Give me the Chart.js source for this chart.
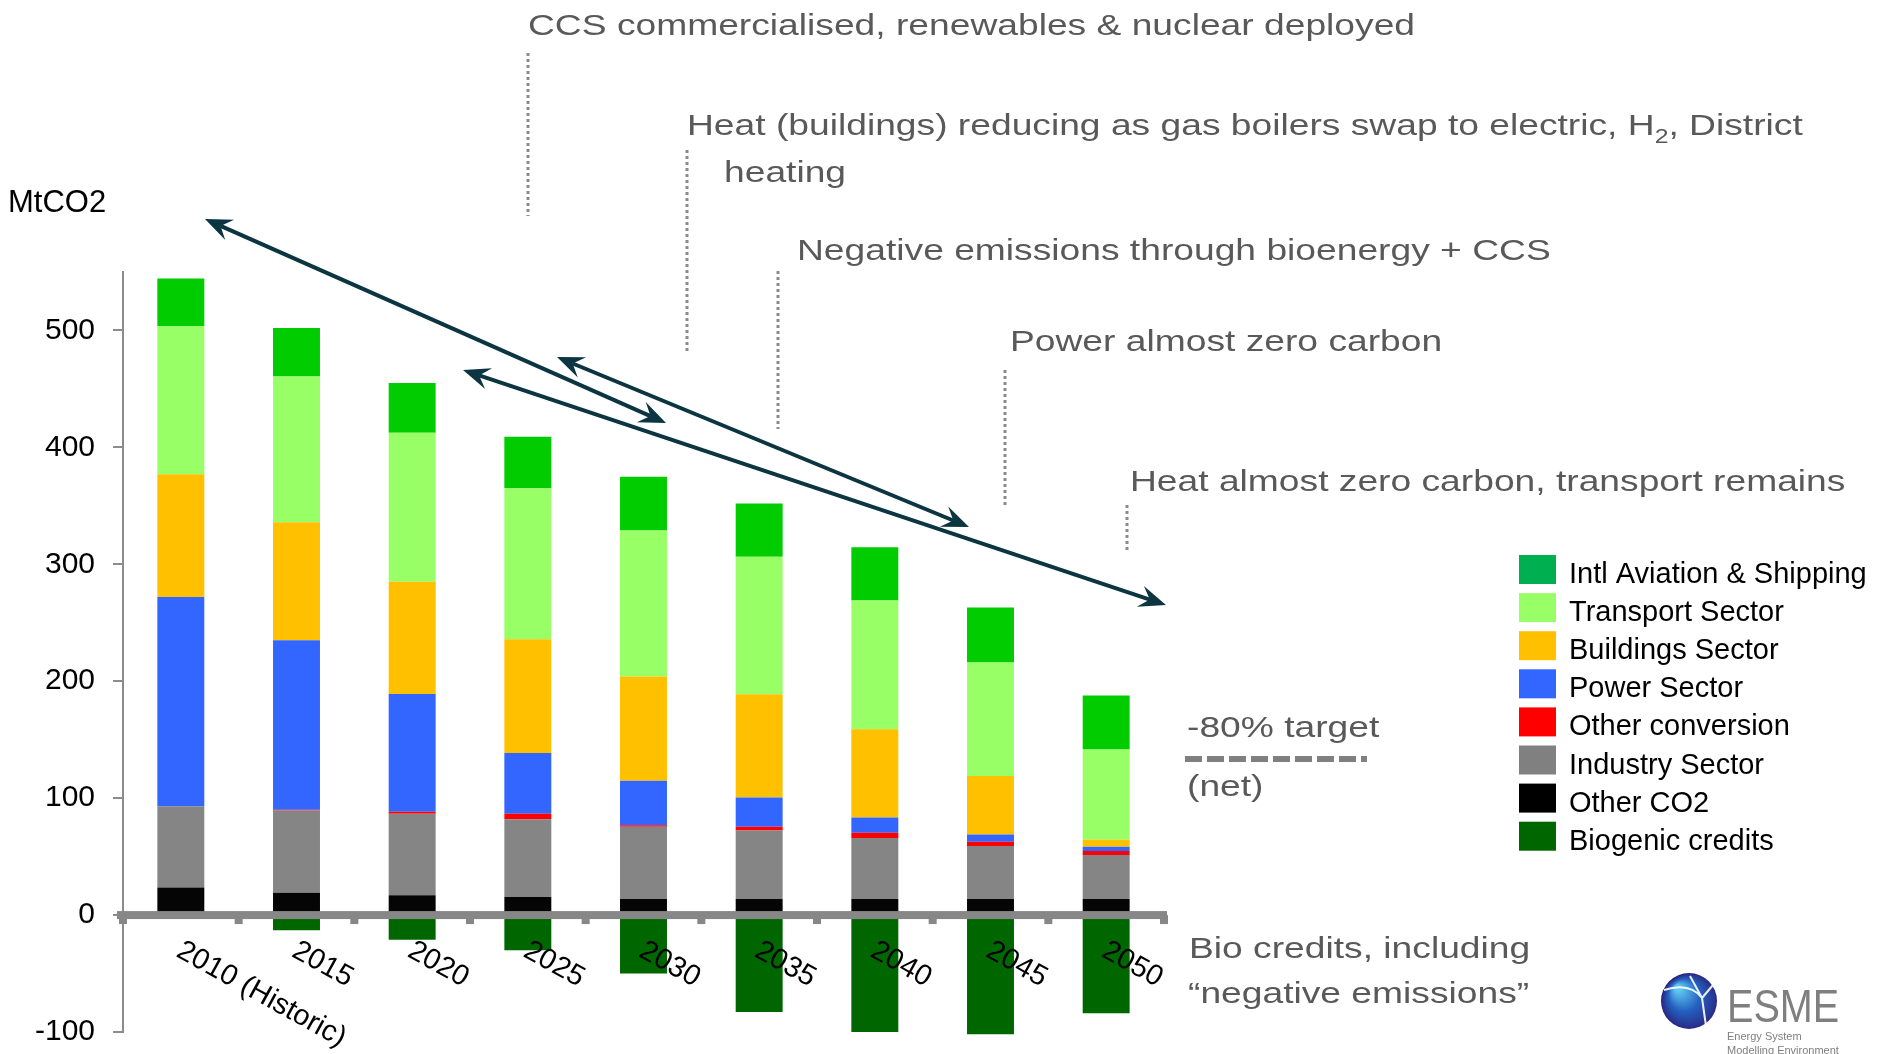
<!DOCTYPE html>
<html>
<head>
<meta charset="utf-8">
<script src="https://cdn.jsdelivr.net/npm/chart.js@4.4.0/dist/chart.umd.min.js"></script>
<style>
  html, body { margin: 0; padding: 0; background: #fff; }
  canvas { display: block; }
</style>
</head>
<body>
<canvas id="grafico" width="1886" height="1054"></canvas>
<script>
// valores (MtCO2), do fundo para o topo de cada barra
const anos = ['2010 (Historic)', '2015', '2020', '2025', '2030', '2035', '2040', '2045', '2050'];
const outrosCO2  = [23.5, 19, 17, 15.4, 13.7, 13.7, 13.7, 13.7, 13.7];
const industria  = [69.5, 70.5, 69.6, 66.6, 61.8, 58.7, 52.3, 45.3, 37.6];
const outraConv  = [0, 0.5, 1.7, 4.6, 1.4, 3.1, 4.4, 3.7, 3.4];
const energia    = [179, 145, 100.7, 52, 37.9, 25.1, 13.1, 6.3, 3.7];
const edificios  = [105, 101, 96, 97.4, 89.2, 88.3, 75.5, 50, 6];
const transporte = [126.5, 124.7, 127.5, 129, 125, 117.6, 110, 97, 77.2];
const aviacao    = [41, 41.3, 42.5, 44, 45.9, 45.5, 45.5, 47, 46.2];
const biogenicos = [0, -13, -21, -30, -50, -83, -100, -102, -84];
const yTicks = [-100, 0, 100, 200, 300, 400, 500];

const FONTE = '"Liberation Sans", Arial, sans-serif';

// séries: ordem de empilhamento (baixo -> cima)
const series = [
  { label: 'Other CO2', data: outrosCO2, cor: '#050505', legenda: '#000000' },
  { label: 'Industry Sector', data: industria, cor: '#858585', legenda: '#808080' },
  { label: 'Other conversion', data: outraConv, cor: '#FF0000', legenda: '#FF0000' },
  { label: 'Power Sector', data: energia, cor: '#3366FF', legenda: '#3366FF' },
  { label: 'Buildings Sector', data: edificios, cor: '#FFC000', legenda: '#FFC000' },
  { label: 'Transport Sector', data: transporte, cor: '#99FF66', legenda: '#99FF66' },
  { label: 'Intl Aviation & Shipping', data: aviacao, cor: '#00CC00', legenda: '#00B050' },
  { label: 'Biogenic credits', data: biogenicos, cor: '#006600', legenda: '#006600' }
];
// ordem da legenda (de cima para baixo)
const ordemLegenda = ['Intl Aviation & Shipping', 'Transport Sector', 'Buildings Sector', 'Power Sector',
  'Other conversion', 'Industry Sector', 'Other CO2', 'Biogenic credits'];

// textos de anotação
const notas = [
  { t: 'CCS commercialised, renewables & nuclear deployed', x: 528, y: 35, linha: [528, 53, 216] },
  { t: 'Negative emissions through bioenergy + CCS', x: 797, y: 260, linha: [778, 271, 429] },
  { t: 'Power almost zero carbon', x: 1010, y: 351, linha: [1005, 370, 505] },
  { t: 'Heat almost zero carbon, transport remains', x: 1130, y: 491, linha: [1127, 505, 551] },
  { t: '-80% target', x: 1187, y: 737 },
  { t: '(net)', x: 1187, y: 796 },
  { t: 'Bio credits, including', x: 1189, y: 958 },
  { t: '\u201cnegative emissions\u201d', x: 1188, y: 1003 }
];
const setas = [
  [205, 219, 666, 423],
  [557, 357, 969, 527],
  [463, 370, 1166, 605]
];

function textoLargo(ctx, s, x, y) {
  ctx.save();
  ctx.translate(x, y);
  ctx.scale(1.24, 1);
  ctx.fillText(s, 0, 0);
  const w = ctx.measureText(s).width * 1.24;
  ctx.restore();
  return w;
}

function ponta(ctx, x, y, fx, fy) {
  const a = Math.atan2(y - fy, x - fx);
  ctx.save();
  ctx.translate(x, y);
  ctx.rotate(a);
  ctx.beginPath();
  ctx.moveTo(0, 0);
  ctx.lineTo(-27, -11);
  ctx.lineTo(-17, 0);
  ctx.lineTo(-27, 11);
  ctx.closePath();
  ctx.fill();
  ctx.restore();
}

function seta(ctx, x1, y1, x2, y2) {
  const a = Math.atan2(y2 - y1, x2 - x1);
  const c = Math.cos(a) * 17, s = Math.sin(a) * 17;
  ctx.beginPath();
  ctx.moveTo(x1 + c, y1 + s);
  ctx.lineTo(x2 - c, y2 - s);
  ctx.stroke();
  ponta(ctx, x2, y2, x1, y1);
  ponta(ctx, x1, y1, x2, y2);
}

const desenho = {
  id: 'desenho',
  afterDatasetsDraw(chart) {
    const ctx = chart.ctx;
    const sx = chart.scales.x, sy = chart.scales.y;
    const area = chart.chartArea;
    const y0 = sy.getPixelForValue(0);
    const passo = sx.getPixelForValue(1) - sx.getPixelForValue(0);
    ctx.save();

    // linha do zero com marcas
    ctx.fillStyle = '#878787';
    ctx.fillRect(area.left - 6, y0 - 4, area.right - area.left + 9, 8);
    for (let i = 0; i <= anos.length; i++) {
      const bx = sx.getPixelForValue(0) - passo / 2 + i * passo;
      ctx.fillRect(bx - 4, y0, 8, 9);
    }

    // rótulos do eixo x, inclinados
    ctx.fillStyle = '#000';
    ctx.font = '29px ' + FONTE;
    ctx.textAlign = 'left';
    ctx.textBaseline = 'top';
    anos.forEach((a, i) => {
      ctx.save();
      ctx.translate(sx.getPixelForValue(i) + 5, y0 + 21);
      ctx.rotate(29 * Math.PI / 180);
      ctx.fillText(a, 0, 0);
      ctx.restore();
    });

    // unidade
    ctx.textBaseline = 'alphabetic';
    ctx.font = '31px ' + FONTE;
    ctx.fillText('MtCO2', 8, 212);

    // legenda
    ctx.font = '29px ' + FONTE;
    ordemLegenda.forEach((nome, i) => {
      const s = series.find(d => d.label === nome);
      const topo = 555 + i * 38.1;
      ctx.fillStyle = s.legenda;
      ctx.fillRect(1519, topo, 37, 29);
      ctx.fillStyle = '#000';
      ctx.fillText(nome, 1569, topo + 28);
    });

    // linhas pontilhadas
    ctx.strokeStyle = '#8a8a8a';
    ctx.lineWidth = 3;
    ctx.setLineDash([3, 3]);
    notas.forEach(n => {
      if (!n.linha) return;
      ctx.beginPath();
      ctx.moveTo(n.linha[0], n.linha[1]);
      ctx.lineTo(n.linha[0], n.linha[2]);
      ctx.stroke();
    });
    ctx.beginPath();
    ctx.moveTo(687, 150);
    ctx.lineTo(687, 351);
    ctx.stroke();

    // alvo -80% tracejado
    ctx.strokeStyle = '#808080';
    ctx.lineWidth = 6;
    ctx.setLineDash([17, 5]);
    ctx.beginPath();
    ctx.moveTo(1185, 759);
    ctx.lineTo(1367, 759);
    ctx.stroke();
    ctx.setLineDash([]);

    // textos cinza
    ctx.fillStyle = '#595959';
    ctx.font = '30px ' + FONTE;
    notas.forEach(n => textoLargo(ctx, n.t, n.x, n.y));
    const hx = 687;
    let w = textoLargo(ctx, 'Heat (buildings) reducing as gas boilers swap to electric, H', hx, 135);
    ctx.font = '20px ' + FONTE;
    const w2 = textoLargo(ctx, '2', hx + w, 143);
    ctx.font = '30px ' + FONTE;
    textoLargo(ctx, ', District', hx + w + w2, 135);
    textoLargo(ctx, 'heating', 724, 182);

    // setas
    ctx.strokeStyle = '#0c3542';
    ctx.fillStyle = '#0c3542';
    ctx.lineWidth = 4;
    setas.forEach(s => seta(ctx, s[0], s[1], s[2], s[3]));

    // logotipo ESME
    const g = ctx.createRadialGradient(1678, 988, 3, 1692, 1004, 32);
    g.addColorStop(0, '#5ec8f0');
    g.addColorStop(0.45, '#2560c0');
    g.addColorStop(1, '#2a1670');
    ctx.fillStyle = g;
    ctx.beginPath();
    ctx.arc(1689, 1001, 28, 0, Math.PI * 2);
    ctx.fill();
    ctx.strokeStyle = 'rgba(255,255,255,0.9)';
    ctx.lineWidth = 2;
    ctx.beginPath();
    ctx.moveTo(1664, 990);
    ctx.quadraticCurveTo(1690, 982, 1702, 998);
    ctx.moveTo(1702, 998);
    ctx.lineTo(1713, 985);
    ctx.moveTo(1702, 998);
    ctx.lineTo(1706, 1026);
    ctx.moveTo(1690, 976);
    ctx.lineTo(1702, 998);
    ctx.stroke();
    ctx.fillStyle = '#7f7f7f';
    ctx.font = '46px ' + FONTE;
    ctx.save();
    ctx.translate(1727, 1022);
    ctx.scale(0.86, 1);
    ctx.fillText('ESME', 0, 0);
    ctx.restore();
    ctx.font = '11px ' + FONTE;
    ctx.fillText('Energy System', 1727, 1040);
    ctx.fillText('Modelling Environment', 1727, 1054);

    ctx.restore();
  }
};

const ctx = document.getElementById('grafico').getContext('2d');
new Chart(ctx, {
  type: 'bar',
  data: {
    labels: anos,
    datasets: series.map(s => ({
      label: s.label,
      data: s.data,
      backgroundColor: s.cor,
      borderWidth: 0,
      clip: false
    }))
  },
  options: {
    responsive: false,
    animation: false,
    devicePixelRatio: 1,
    layout: { padding: { left: 0, right: 722, top: 272, bottom: 22 } },
    datasets: { bar: { barPercentage: 0.406, categoryPercentage: 1 } },
    plugins: { legend: { display: false }, tooltip: { enabled: false } },
    scales: {
      x: { stacked: true, display: false },
      y: {
        stacked: true,
        min: -100,
        max: 550,
        afterBuildTicks: s => { s.ticks = yTicks.map(v => ({ value: v })); },
        afterFit: s => { s.width = 123; s.paddingTop = 0; s.paddingBottom = 0; },
        border: { display: true, color: '#8c8c8c', width: 2 },
        grid: { drawOnChartArea: false, drawTicks: true, tickLength: 10, color: '#8c8c8c', lineWidth: 2 },
        ticks: { padding: 18, color: '#000', font: { family: FONTE, size: 30 } }
      }
    }
  },
  plugins: [desenho]
});
</script>
</body>
</html>
